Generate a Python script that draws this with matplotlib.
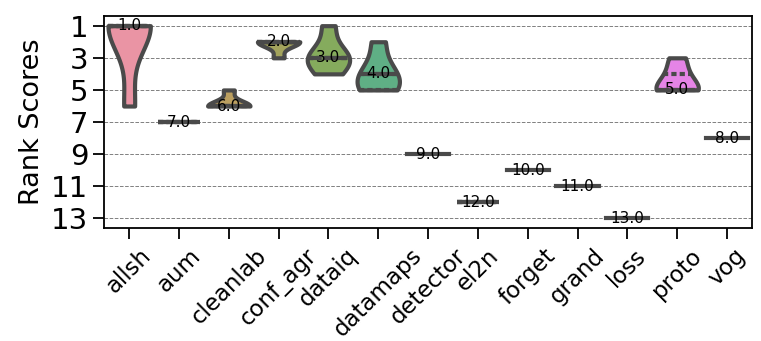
import numpy as np
import pandas as pd
import seaborn as sns
from matplotlib import pyplot as plt

#
# Data (rank of each method across datasets)
#
METHODS = ['allsh', 'aum', 'cleanlab', 'conf_agr', 'dataiq', 'datamaps', 'detector',
           'el2n', 'forget', 'grand', 'loss', 'proto', 'vog']

allsh    = [1, 1, 1, 1, 6]
aum      = [7, 7, 7, 7, 7]
cleanlab = [5, 6, 6, 6, 6]
conf_agr = [2, 2, 2, 2, 3]
dataiq   = [1, 3, 3, 3, 4]
datamaps = [2, 4, 4, 5, 5]
detector = [9, 9, 9, 9, 9]
el2n     = [12, 12, 12, 12, 12]
forget   = [10, 10, 10, 10, 10]
grand    = [11, 11, 11, 11, 11]
loss     = [13, 13, 13, 13, 13]
proto    = [3, 4, 5, 5, 5]
vog      = [8, 8, 8, 8, 8]

FINAL_RANK = [1.0, 7.0, 6.0, 2.0, 3.0, 4.0, 9.0, 12.0, 10.0, 11.0, 13.0, 5.0, 8.0]

series = [allsh, aum, cleanlab, conf_agr, dataiq, datamaps, detector,
          el2n, forget, grand, loss, proto, vog]
rows = []
for m, vals in zip(METHODS, series):
    for v in vals:
        rows.append({'method': m, 'rank': v})
df = pd.DataFrame(rows)

#
# Plot
#
fig = plt.figure(figsize=(7.61, 3.41), dpi=100)
ax = fig.add_axes([0.137, 0.331, 0.851, 0.622])
ax.set_axisbelow(True)
ax.yaxis.grid(True, linestyle='--', color='gray', linewidth=0.7)

# muted husl colours, a bit lighter
pal = []
for c in sns.color_palette('husl', len(METHODS)):
    c = np.array(sns.desaturate(c, 0.75))
    pal.append(tuple(0.85 * c + 0.15))
sns.violinplot(data=df, x='method', y='rank', hue='method', order=METHODS,
               palette=pal, legend=False, saturation=1, linecolor='#4a4a4a',
               cut=0, inner='quart', linewidth=3, width=0.85, ax=ax)

for i, r in enumerate(FINAL_RANK):
    ax.text(i, r, str(r), ha='center', va='center', fontsize=11)

ax.set_ylim(13.6, 0.4)
ax.set_yticks([1, 3, 5, 7, 9, 11, 13])
ax.set_xlabel('')
ax.set_ylabel('Rank Scores', fontsize=19.5)
ax.tick_params(axis='y', labelsize=21, length=8, width=1.3)
ax.tick_params(axis='x', labelsize=16.5, length=8, width=1.3, rotation=45)
for s in ax.spines.values():
    s.set_linewidth(1.3)

fig.savefig('out.png', dpi=100)
